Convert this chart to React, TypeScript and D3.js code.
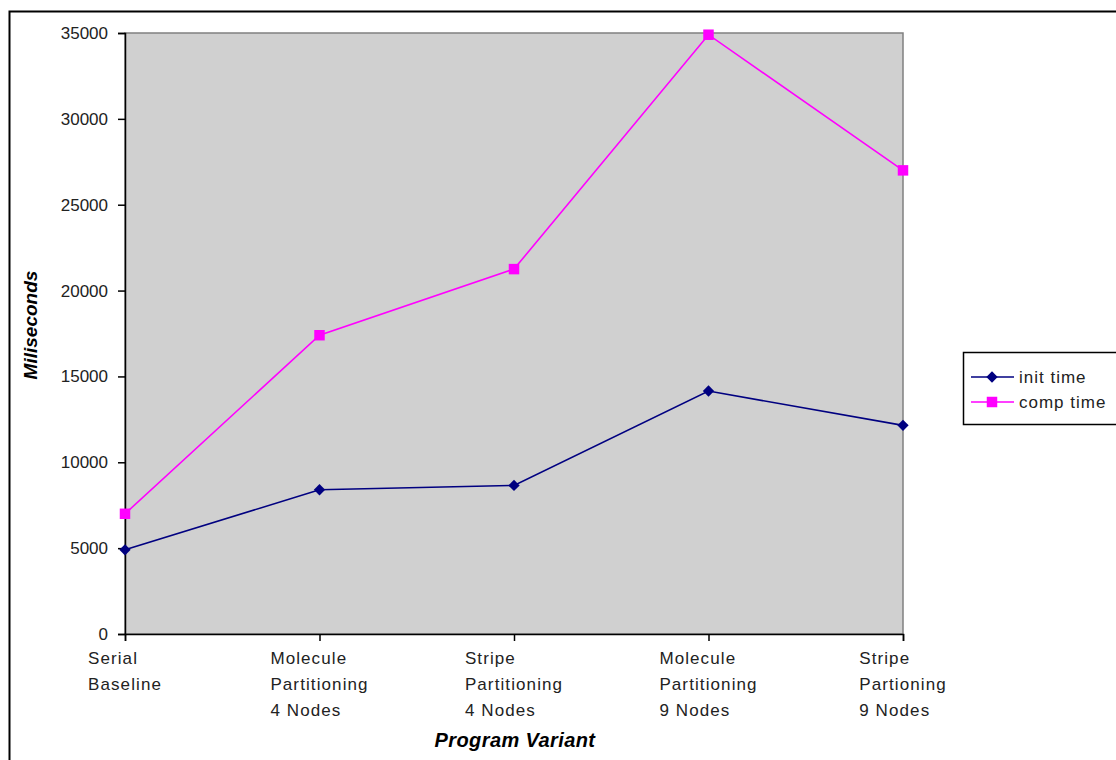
import React, { useEffect, useRef } from "react";
import * as d3 from "d3";

const categories: string[][] = [
  ["Serial", "Baseline"],
  ["Molecule", "Partitioning", "4 Nodes"],
  ["Stripe", "Partitioning", "4 Nodes"],
  ["Molecule", "Partitioning", "9 Nodes"],
  ["Stripe", "Partioning", "9 Nodes"],
];
const initTime = [4900, 8400, 8650, 14150, 12150];
const compTime = [7000, 17400, 21250, 34900, 27000];
const yTicks = [0, 5000, 10000, 15000, 20000, 25000, 30000, 35000];
const seriesNames = ["init time", "comp time"];

const W = 1116;
const H = 760;
const plot = { left: 125, right: 903, top: 33, bottom: 634 };
const FONT = "'Liberation Sans', Arial, Helvetica, sans-serif";

export default function App() {
  const ref = useRef<SVGSVGElement | null>(null);

  useEffect(() => {
    const svg = d3.select(ref.current);
    svg.selectAll("*").remove();

    const x = d3
      .scalePoint<number>()
      .domain(categories.map((_, i) => i))
      .range([plot.left, plot.right]);
    const y = d3.scaleLinear().domain([0, 35000]).range([plot.bottom, plot.top]);

    // outer frame
    svg
      .append("rect")
      .attr("x", 9.5)
      .attr("y", 11.5)
      .attr("width", W + 20)
      .attr("height", H + 20)
      .attr("fill", "#fff")
      .attr("stroke", "#000")
      .attr("stroke-width", 2);

    // plot background
    svg
      .append("rect")
      .attr("x", plot.left)
      .attr("y", plot.top)
      .attr("width", plot.right - plot.left)
      .attr("height", plot.bottom - plot.top)
      .attr("fill", "#d0d0d0")
      .attr("stroke", "#808080")
      .attr("stroke-width", 1.5);

    // y axis
    const yAxis = d3
      .axisLeft(y)
      .tickValues(yTicks)
      .tickSize(7)
      .tickPadding(10)
      .tickFormat((d) => String(d));
    const gy = svg
      .append("g")
      .attr("transform", `translate(${plot.left},0)`)
      .call(yAxis);
    gy.select(".domain").attr("stroke", "#000").attr("stroke-width", 1.5);
    gy.selectAll(".tick line").attr("stroke", "#000").attr("stroke-width", 1.5);
    gy.selectAll(".tick text")
      .attr("fill", "#222")
      .style("font-family", FONT)
      .style("font-size", "17px");

    // x axis
    const xAxis = d3.axisBottom(x).tickSize(7).tickFormat(() => "");
    const gx = svg
      .append("g")
      .attr("transform", `translate(0,${plot.bottom})`)
      .call(xAxis);
    gx.select(".domain").attr("stroke", "#000").attr("stroke-width", 1.5);
    gx.selectAll(".tick line").attr("stroke", "#000").attr("stroke-width", 1.5);

    // category labels: left-aligned block centred under each tick
    categories.forEach((lines, i) => {
      const g = svg.append("g");
      const texts = lines.map((line, j) =>
        g
          .append("text")
          .attr("y", 664 + j * 26)
          .attr("fill", "#222")
          .style("font-family", FONT)
          .style("font-size", "17px")
          .style("letter-spacing", "1.1px")
          .text(line)
      );
      const widths = texts.map((t) => (t.node() as SVGTextElement).getComputedTextLength());
      const maxW = d3.max(widths) ?? 0;
      texts.forEach((t) => t.attr("x", (x(i) ?? 0) - maxW / 2));
    });

    // axis titles
    svg
      .append("text")
      .attr("x", 515)
      .attr("y", 747)
      .attr("text-anchor", "middle")
      .style("font-family", FONT)
      .style("font-size", "20px")
      .style("font-weight", "bold")
      .style("font-style", "italic")
      .style("letter-spacing", "0.4px")
      .text("Program Variant");
    svg
      .append("text")
      .attr("transform", `translate(37,325) rotate(-90)`)
      .attr("text-anchor", "middle")
      .style("font-family", FONT)
      .style("font-size", "19px")
      .style("font-weight", "bold")
      .style("font-style", "italic")
      .text("Miliseconds");

    const line = d3
      .line<number>()
      .x((_, i) => x(i) ?? 0)
      .y((d) => y(d));

    const series = [
      { name: seriesNames[0], values: initTime, color: "#000080", symbol: d3.symbolSquare, size: 64, rotate: 45 },
      { name: seriesNames[1], values: compTime, color: "#ff00ff", symbol: d3.symbolSquare, size: 110, rotate: 0 },
    ];

    series.forEach((s) => {
      svg
        .append("path")
        .datum(s.values)
        .attr("d", line)
        .attr("fill", "none")
        .attr("stroke", s.color)
        .attr("stroke-width", 1.6);
      svg
        .append("g")
        .selectAll("path")
        .data(s.values)
        .join("path")
        .attr("transform", (d, i) => `translate(${x(i)},${y(d)}) rotate(${s.rotate})`)
        .attr("d", d3.symbol().type(s.symbol).size(s.size)())
        .attr("fill", s.color);
    });

    // legend
    const lg = svg.append("g");
    lg.append("rect")
      .attr("x", 963.5)
      .attr("y", 352.5)
      .attr("width", 170)
      .attr("height", 72)
      .attr("fill", "#fff")
      .attr("stroke", "#000")
      .attr("stroke-width", 1.5);
    series.forEach((s, i) => {
      const cy = 377 + i * 25;
      lg.append("line")
        .attr("x1", 971)
        .attr("x2", 1014)
        .attr("y1", cy)
        .attr("y2", cy)
        .attr("stroke", s.color)
        .attr("stroke-width", 1.6);
      lg.append("path")
        .attr("transform", `translate(992,${cy}) rotate(${s.rotate})`)
        .attr("d", d3.symbol().type(s.symbol).size(s.size)())
        .attr("fill", s.color);
      lg.append("text")
        .attr("x", 1019)
        .attr("y", cy)
        .attr("dy", "0.35em")
        .attr("fill", "#222")
        .style("font-family", FONT)
        .style("font-size", "17px")
        .style("letter-spacing", "1px")
        .text(s.name);
    });
  }, []);

  return (
    <svg
      ref={ref}
      width={W}
      height={H}
      style={{ position: "absolute", left: 0, top: 0, background: "#fff" }}
    />
  );
}
